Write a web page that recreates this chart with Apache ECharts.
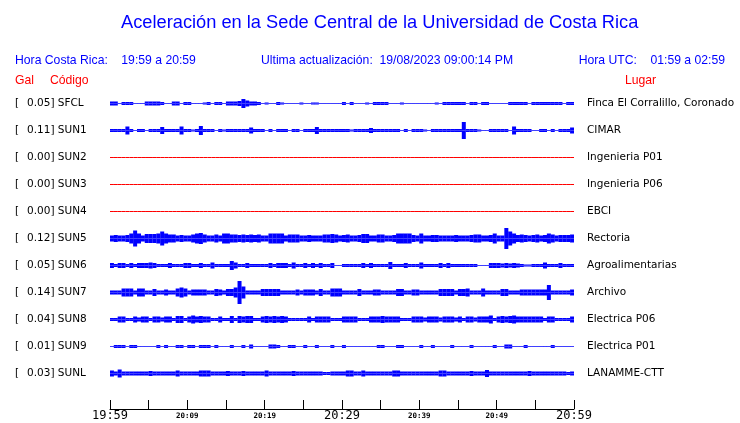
<!DOCTYPE html>
<html><head><meta charset="utf-8">
<script src="https://cdn.jsdelivr.net/npm/echarts@6/dist/echarts.min.js"></script>
<style>html,body{margin:0;padding:0;background:#fff}#c{width:740px;height:423px}</style>
</head><body><div id="c"></div><script>
// Station metadata
const CODES = ['SFCL','SUN1','SUN2','SUN3','SUN4','SUN5','SUN6','SUN7','SUN8','SUN9','SUNL'];
const GAL = ['0.05','0.11','0.00','0.00','0.00','0.12','0.05','0.14','0.04','0.01','0.03'];
const PLACES = ['Finca El Corralillo, Coronado','CIMAR','Ingenieria P01','Ingenieria P06','EBCI','Rectoria','Agroalimentarias','Archivo','Electrica P06','Electrica P01','LANAMME-CTT'];
const TICK_LABELS = ['19:59','20:09','20:19','20:29','20:39','20:49','20:59'];

// Envelope half-amplitude (relative units) per 30 s bucket, 19:59 -> 20:59 (120 buckets)
const SFCL = [
 2,2,.5,1.5,1.5,1.5,.5,.5,.5,2,2,2,
 2,1.5,.5,.5,2,2,.5,1.5,1.5,.5,.5,.5,
 1,1.5,.5,1.5,1.5,.5,2,2,2,2.5,4.5,3,
 2,2,1.5,.5,1,.5,.5,1.5,1,.5,.5,.5,
 .5,1,.5,.5,1,1,.5,.5,.5,.5,.5,.5,
 1.5,.5,1.5,.5,.5,.5,1,.5,1.5,1.5,1.5,1.5,
 .5,.5,.5,1,.5,.5,.5,.5,.5,.5,.5,.5,
 1,.5,1.5,1.5,1.5,1.5,1.5,1.5,.5,1.5,1.5,.5,
 1.5,1.5,.5,.5,.5,.5,.5,1.5,1.5,1.5,1.5,1.5,
 .5,1.5,1.5,1.5,1.5,1.5,1.5,1.5,1.5,.5,1.5,1.5];
const SUN1 = [
 1.5,1.5,1.5,1.5,4,1.5,.5,1.5,1.5,.5,1.5,1.5,
 1.5,3.5,1.5,1.5,1.5,1.5,4,1.5,1.5,1,1.5,4.5,
 1.5,1.5,1.5,.5,1.5,1,1.5,1.5,1.5,1.5,1.5,1.5,
 3,1.5,1.5,1.5,.5,1.5,.5,1.5,1.5,1.5,.5,1.5,
 1.5,.5,1.5,1.5,1.5,3.5,1.5,1.5,1.5,1.5,1.5,1.5,
 1.5,1.5,1,1.5,1.5,1.5,1.5,2.5,1.5,1.5,1.5,1.5,
 1.5,1.5,1.5,.5,1.5,.5,1.5,1.5,1.5,1,.5,1.5,
 1.5,1.5,1.5,1.5,1.5,1.5,1.5,8.5,1.5,1.5,1.5,1,
 .5,.5,1.5,1.5,1.5,1.5,1.5,.5,4,1.5,1.5,1.5,
 1.5,.5,.5,1.5,1.5,.5,1.5,.5,1.5,1.5,1.5,3];
const SUN2 = [
 0,0,0,0,0,0,0,0,0,0,0,0, 0,0,0,0,0,0,0,0,0,0,0,0, 0,0,0,0,0,0,0,0,0,0,0,0,
 0,0,0,0,0,0,0,0,0,0,0,0, 0,0,0,0,0,0,0,0,0,0,0,0, 0,0,0,0,0,0,0,0,0,0,0,0,
 0,0,0,0,0,0,0,0,0,0,0,0, 0,0,0,0,0,0,0,0,0,0,0,0, 0,0,0,0,0,0,0,0,0,0,0,0,
 0,0,0,0,0,0,0,0,0,0,0,0];
const SUN3 = SUN2.slice();
const SUN4 = SUN2.slice();
const SUN5 = [
 3,3.5,3,3,3.5,5,8,5,3,4.5,4.5,4.5,
 5,7,5,4,4,3,3.5,3,3,4,5,5.5,
 4,3,3,4,3,5,5,4,4,3.5,4,3.5,
 4,3.5,4,3,3,5,5,5,5,3,4,4,
 4,3,3,3.5,3,3,3,4,4,4.5,4,3,
 3.5,4,3,3,3.5,4.5,4.5,3,3,4,4,3,
 3,3.5,5,5,5,5,3.5,3,5,3,3,3.5,
 3.5,3,3,3,3,3.5,3,3,3,3.5,4,4,
 3,3,3.5,5,3,3,10.5,7,5,3.5,4,3.5,
 3,3.5,4,3,3.5,5,4,3,3.5,3.5,3.5,4];
const SUN6 = [
 2.5,1.5,2.5,2.5,1.5,2.5,1.5,2.5,2.5,2.5,3,2.5,
 1.5,1.5,1.5,2.5,1.5,1.5,1.5,2.5,2.5,1.5,1.5,2.5,
 1.5,1.5,3,1.5,1.5,1.5,1.5,4.5,3,1.5,1.5,2.5,
 1.5,1.5,1.5,1.5,1.5,2.5,1.5,2.5,2.5,2.5,1.5,3,
 1.5,1.5,2.5,1.5,2.5,1.5,2.5,1.5,1.5,2.5,.5,.5,
 1.5,1.5,1.5,1.5,1.5,2.5,1.5,2.5,1.5,1.5,1.5,1.5,
 3.5,1.5,1.5,1.5,2.5,1.5,1.5,1.5,3,1.5,1.5,1.5,
 1.5,2.5,1.5,2.5,1.5,1.5,1.5,1.5,1.5,1.5,1.5,.5,
 .5,.5,2.5,2.5,2.5,2,2.5,2,2.5,2,1.5,1,
 1,1.5,1.5,1.5,3,1.5,1.5,1.5,2.5,1.5,1.5,1.5];
const SUN7 = [
 2,2,2,4,4,4,2,4,4,2,2,3.5,
 2,2,3,2,2,4,5,4,2,3,3,3,
 3,2,2,3.5,3,2,3.5,3.5,5,11.5,6,2,
 2,2,2,3.5,3.5,3.5,3.5,3.5,2,2,2,2,
 3,2,3,3,3,2,3.5,2,2,4,4,4,
 2,2,2,2,3.5,2,2,2,3,3,2,2,
 2,2,3.5,3.5,2,2,3,3,2,2,2,2,
 2,3.5,3.5,3.5,3.5,2,3.5,3.5,4,2,2,2,
 4,2,2,2,2,3.5,3.5,2,2,2,3,3,
 3,3,3,3,3,7.5,2,2,2,2,2,3];
const SUN8 = [
 1.5,1.5,3,3,1.5,1.5,3,2,3,3,1.5,3,
 3,2,3,3,1.5,3.5,3.5,1.5,3,4,3,3.5,
 3,3,1.5,1.5,3,1.5,1.5,3.5,1.5,3.5,3,3.5,
 3.5,1.5,1.5,3,3.5,3,3.5,3,3.5,3,1.5,1.5,
 1.5,1.5,1.5,3,1.5,3,3,3,3,1.5,1.5,1.5,
 3,3,3,3,1.5,1.5,1.5,3,3,3,3.5,3,
 3,3,3,1.5,1.5,1.5,3,3,3,2,3,3,
 3,2,3,3,3,2,3,1.5,3,3,2,3,
 3,3,4,1.5,3,3.5,3,3.5,4,3,3,3,
 3,3,3,3,1.5,3,3,1.5,1.5,1.5,1.5,3];
const SUN9 = [
 .5,1.5,1.5,1.5,.5,1.5,1.5,.5,.5,.5,.5,.5,
 1.5,.5,1.5,.5,.5,1.5,1.5,.5,1.5,1.5,.5,1.5,
 1.5,1.5,.5,1.5,.5,.5,.5,1.5,.5,.5,1.5,.5,
 2,.5,.5,.5,.5,2,2,1.5,.5,.5,1.5,1.5,
 .5,.5,1.5,.5,.5,1.5,.5,.5,.5,1.5,.5,.5,
 1.5,.5,.5,.5,.5,.5,.5,.5,.5,1.5,1.5,.5,
 .5,.5,1.5,1.5,.5,.5,.5,.5,1.5,.5,.5,1.5,
 .5,.5,.5,.5,1.5,.5,.5,.5,.5,1.5,.5,.5,
 .5,.5,.5,1.5,.5,.5,2,2,.5,.5,.5,1.5,
 .5,.5,.5,.5,.5,.5,1.5,.5,.5,.5,.5,.5];
const SUNL = [
 3,2,4,2,2,2,2,2,2,2,2.5,2,
 2,2,2,2,2,3,2,2,2,2,2,3,
 3,3,2,2,2,2,2.5,2,2,2,2.5,2,
 2,2,2,2,3,2,2,2,2,2,2,2.5,
 2,2,2,2,2,2,2,1.5,1.5,2,2,2,
 2,3,3,2,2,3,2,2,2,2,2,2,
 2,3,3,2,2,2,2,2,2,2,2,2,
 2,3,3,2,2,2,2,2,2,2.5,2,2,
 2,3.5,2,2,2,2,2,2,2,2,2,2,
 2.5,2,2,2,2,2,2,2,2,2,1.5,2];

const TRACES = [SFCL,SUN1,SUN2,SUN3,SUN4,SUN5,SUN6,SUN7,SUN8,SUN9,SUNL];
const BUCKETS = SFCL.map((_, k) => k);

const BLUE = '#0000ff', RED = '#ff0000';
const grids = [], xAxes = [], yAxes = [], series = [];
const labelFont = 'DejaVu Sans';
const LFS = 10.5;

TRACES.forEach((tr, i) => {
  const flat = tr.every(v => v === 0);
  grids.push({left: 110, width: 464, top: 90 + 27 * i, height: 27});
  xAxes.push({gridIndex: i, type: 'category', data: BUCKETS, boundaryGap: !flat, show: false});
  yAxes.push({
    gridIndex: i, type: 'value', min: -13.5, max: 13.5, interval: 13.5, position: 'left',
    axisLine: {show: false}, axisTick: {show: false}, splitLine: {show: false},
    axisLabel: {
      margin: 95, align: 'left', color: '#000',
      formatter: v => v === 0 ? '{a|[}{b|' + GAL[i] + ']} {c|' + CODES[i] + '}' : '',
      rich: {
        a: {width: 12, fontSize: LFS, fontFamily: labelFont, color: '#000'},
        b: {fontSize: LFS, fontFamily: labelFont, color: '#000'},
        c: {fontSize: LFS, fontFamily: labelFont, color: '#000'}
      }
    }
  });
  yAxes.push({
    gridIndex: i, type: 'value', min: -13.5, max: 13.5, interval: 13.5, position: 'right',
    axisLine: {show: false}, axisTick: {show: false}, splitLine: {show: false},
    axisLabel: {
      margin: 13, align: 'left', color: '#000', fontSize: LFS, fontFamily: labelFont,
      formatter: v => v === 0 ? PLACES[i] : ''
    }
  });
  if (flat) {
    series.push({type: 'line', xAxisIndex: i, yAxisIndex: 2 * i, data: tr, symbol: 'none',
      lineStyle: {color: RED, width: 1}, silent: true});
  } else {
    series.push({type: 'bar', xAxisIndex: i, yAxisIndex: 2 * i, stack: 'env' + i, data: tr,
      barWidth: 4, itemStyle: {color: BLUE}, silent: true});
    series.push({type: 'bar', xAxisIndex: i, yAxisIndex: 2 * i, stack: 'env' + i, data: tr.map(v => -v),
      barWidth: 4, itemStyle: {color: BLUE}, silent: true});
  }
});

// time axis
const TI = TRACES.length;
grids.push({left: 110, width: 464, top: 380, height: 29});
xAxes.push({
  gridIndex: TI, type: 'value', min: 0, max: 60, interval: 5,
  axisLine: {lineStyle: {color: '#000', width: 1}},
  axisTick: {inside: true, length: 9, lineStyle: {color: '#000'}},
  splitLine: {show: false},
  axisLabel: {
    margin: 7, verticalAlign: 'middle',
    formatter: v => {
      if (v % 10 !== 0) return '';
      const t = TICK_LABELS[v / 10];
      return (v % 30 === 0) ? '{big|' + t + '}' : '{small|' + t + '}';
    },
    rich: {
      big: {fontSize: 12, fontFamily: 'DejaVu Sans Mono', color: '#000'},
      small: {fontSize: 7.5, fontWeight: 'bold', fontFamily: 'DejaVu Sans Mono', color: '#000'}
    }
  }
});
yAxes.push({gridIndex: TI, type: 'value', min: 0, max: 1, show: false});
series.push({type: 'line', xAxisIndex: TI, yAxisIndex: yAxes.length - 1, data: [], silent: true});

const head = {color: BLUE, fontSize: 12.2, fontWeight: 'normal', fontFamily: 'Liberation Sans'};
const headR = Object.assign({}, head, {color: RED});
const option = {
  animation: false,
  backgroundColor: '#fff',
  title: [
    {text: 'Aceleración en la Sede Central de la Universidad de Costa Rica', left: 121, top: 14, padding: 0,
      textStyle: {color: BLUE, fontSize: 18.25, fontWeight: 'normal', fontFamily: 'Liberation Sans'}},
    {text: 'Hora Costa Rica:    19:59 a 20:59', left: 15, top: 55, padding: 0, textStyle: head},
    {text: 'Ultima actualización:  19/08/2023 09:00:14 PM', left: 261, top: 55, padding: 0, textStyle: head},
    {text: 'Hora UTC:    01:59 a 02:59', right: 15, top: 55, padding: 0, textStyle: head},
    {text: 'Gal', left: 15, top: 75, padding: 0, textStyle: headR},
    {text: 'Código', left: 50, top: 75, padding: 0, textStyle: headR},
    {text: 'Lugar', left: 625, top: 75, padding: 0, textStyle: headR}
  ],
  grid: grids, xAxis: xAxes, yAxis: yAxes, series: series
};
const chart = echarts.init(document.getElementById('c'), null, {renderer: 'canvas'});
chart.setOption(option);
</script></body></html>
